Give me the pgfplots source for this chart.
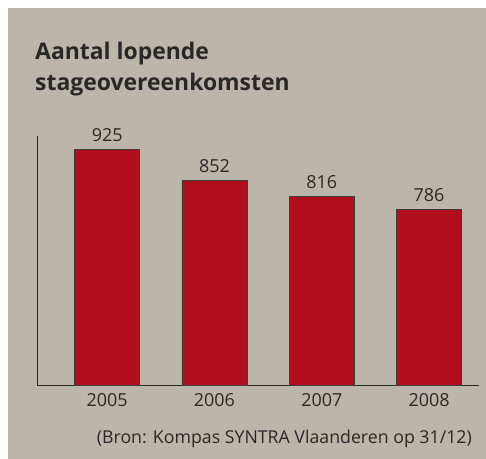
\documentclass[border=0pt]{standalone}
\usepackage{pgfplots}
\pgfplotsset{compat=1.18}
\usepackage{fontspec}
\setmainfont{Open Sans}
\definecolor{bgbeige}{RGB}{188,181,170}
\definecolor{barred}{RGB}{177,14,30}
\definecolor{txt}{RGB}{40,40,40}
\begin{document}
\begin{tikzpicture}[x=1bp,y=1bp]
\fill[white] (0,0) rectangle (486,459);
\fill[bgbeige] (8,0) rectangle (486,451);
\node[anchor=base west, text=txt, font=\bfseries\fontsize{23}{27}\selectfont, inner sep=0pt] at (35,399) {Aantal lopende};
\node[anchor=base west, text=txt, font=\bfseries\fontsize{23}{27}\selectfont, inner sep=0pt] at (35,368) {stageovereenkomsten};
\begin{axis}[
  at={(37bp,73.3bp)}, anchor=south west,
  scale only axis, width=442.3bp, height=249.7bp,
  xmin=-0.654, xmax=3.468, ymin=380, ymax=955,
  axis x line*=bottom, axis y line*=left,
  axis line style={draw=txt, line width=0.8pt, -},
  ytick=\empty, xtick={0,1,2,3}, xticklabels={2005,2006,2007,2008},
  major tick length=0pt,
  xticklabel style={font=\fontsize{18}{20}\selectfont, text=txt, yshift=-4bp},
  ybar, bar width=65bp,
  nodes near coords,
  nodes near coords style={font=\fontsize{18}{20}\selectfont, text=txt, yshift=4bp},
  /pgf/number format/assume math mode=true,
  clip=false,
]
\addplot[fill=barred, draw=txt!90, line width=0.6pt] coordinates {(0,925) (1,852) (2,816) (3,786)};
\end{axis}
\node[anchor=base east, text=txt, font=\fontsize{17.8}{20}\selectfont, inner sep=0pt] at (472,15) {(Bron: Kompas SYNTRA Vlaanderen op 31/12)};
\end{tikzpicture}
\end{document}
